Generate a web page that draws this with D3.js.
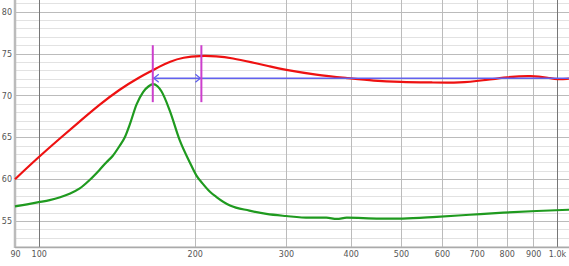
<!DOCTYPE html>
<html>
<head>
<meta charset="utf-8">
<script src="https://cdn.jsdelivr.net/npm/d3@7"></script>
<style>
  body { margin: 0; background: #fff; }
  svg { display: block; }
  .tick text { font-family: "DejaVu Sans", Arial, sans-serif; font-size: 8px; fill: #555; }
</style>
</head>
<body>
<div class="graphContainer"></div>
<script>
var width = 569;
var height = 266;

// red response
var redFreq = [90, 100, 110, 120, 131, 143, 156.6, 166, 171, 179, 190, 204.5, 220, 237, 256, 280, 296, 343, 398, 442, 498, 576, 650, 720, 800, 894, 967, 1000, 1055];
var redDb = [60.0, 62.65, 64.9, 66.9, 68.9, 70.7, 72.2, 73.0, 73.45, 74.05, 74.55, 74.75, 74.7, 74.45, 74.0, 73.45, 73.1, 72.45, 72.05, 71.75, 71.6, 71.55, 71.5, 71.8, 72.2, 72.4, 72.1, 71.9, 72.0];

// green response
var greenFreq = [90, 95, 100, 105, 110, 115, 120, 125.4, 131, 135, 139, 143, 146.6, 150, 154.4, 159, 163, 166.3, 169.5, 172.5, 179, 187, 195.7, 201.7, 207, 214, 220, 234, 255, 275, 300, 333, 359, 376, 393, 455, 504, 586, 679, 788, 914, 1055];
var greenDb = [56.75, 57.0, 57.25, 57.5, 57.85, 58.3, 58.9, 59.9, 61.1, 62.0, 62.8, 63.9, 65.0, 66.6, 68.9, 70.4, 71.1, 71.35, 71.1, 70.5, 68.2, 64.7, 62.0, 60.4, 59.5, 58.5, 57.9, 56.85, 56.25, 55.85, 55.6, 55.4, 55.4, 55.25, 55.4, 55.3, 55.3, 55.5, 55.75, 56.0, 56.2, 56.35];

// markers
var markerFreq = [166, 206];
var markerDb = [69.2, 76.0];
var bandDb = 72.05;

var xTicks = [90, 100, 200, 300, 400, 500, 600, 700, 800, 900, 1000];
var xTickLabels = ["90", "100", "200", "300", "400", "500", "600", "700", "800", "900", "1.0k"];
var yTicks = [55, 60, 65, 70, 75, 80];

var plotLeft = 15, plotTop = 0, plotRight = 569, plotBottom = 247;

var x = d3.scaleLog().domain([90, 1055]).range([plotLeft, plotRight]);
var y = d3.scaleLinear().domain([51.9, 81.4]).range([plotBottom, plotTop]);

var svg = d3.select(".graphContainer")
  .append("svg")
  .attr("width", width)
  .attr("height", height);

// horizontal grid
var minorY = d3.range(52, 82);
svg.append("g").selectAll("line")
  .data(minorY)
  .enter()
  .append("line")
  .attr("x1", plotLeft)
  .attr("x2", plotRight)
  .attr("y1", function (d) { return Math.round(y(d)) + 0.5; })
  .attr("y2", function (d) { return Math.round(y(d)) + 0.5; })
  .attr("stroke", function (d) { return d % 5 == 0 ? "#bbb" : "#e2e2e2"; })
  .attr("stroke-width", 1);

// vertical grid
svg.append("g").selectAll("line")
  .data(xTicks.slice(1))
  .enter()
  .append("line")
  .attr("x1", function (d) { return Math.round(x(d)) + 0.5; })
  .attr("x2", function (d) { return Math.round(x(d)) + 0.5; })
  .attr("y1", plotTop)
  .attr("y2", plotBottom)
  .attr("stroke", function (d) { return d == 100 || d == 1000 ? "#777" : "#bbb"; })
  .attr("stroke-width", 1);

// frame
svg.append("line")
  .attr("x1", plotLeft).attr("x2", plotLeft)
  .attr("y1", plotTop).attr("y2", plotBottom + 1)
  .attr("stroke", "#bbb").attr("stroke-width", 2.5);
svg.append("line")
  .attr("x1", plotLeft).attr("x2", plotRight)
  .attr("y1", plotBottom + 0.5).attr("y2", plotBottom + 0.5)
  .attr("stroke", "#aaa").attr("stroke-width", 1.5);

// axes
var xAxis = d3.axisBottom(x)
  .tickValues(xTicks)
  .tickFormat(function (d, i) { return xTickLabels[i]; })
  .tickSize(0)
  .tickPadding(4);
svg.append("g")
  .attr("transform", "translate(0," + plotBottom + ")")
  .call(xAxis)
  .call(function (g) { g.select(".domain").remove(); });

var yAxis = d3.axisLeft(y)
  .tickValues(yTicks)
  .tickSize(0)
  .tickPadding(3);
svg.append("g")
  .attr("transform", "translate(" + plotLeft + ",0)")
  .call(yAxis)
  .call(function (g) { g.select(".domain").remove(); });

// curves
function lineWith(curve) {
  return d3.line()
    .x(function (d) { return x(d[0]); })
    .y(function (d) { return y(d[1]); })
    .curve(curve);
}

svg.append("path")
  .datum(d3.zip(greenFreq, greenDb))
  .attr("d", lineWith(d3.curveMonotoneX))
  .attr("fill", "none")
  .attr("stroke", "#1f9a1f")
  .attr("stroke-width", 2.2);

svg.append("path")
  .datum(d3.zip(redFreq, redDb))
  .attr("d", lineWith(d3.curveBasis))
  .attr("fill", "none")
  .attr("stroke", "#ee1111")
  .attr("stroke-width", 2.2);

// band line with arrows
svg.append("line")
  .attr("x1", x(markerFreq[0]))
  .attr("x2", plotRight)
  .attr("y1", y(bandDb))
  .attr("y2", y(bandDb))
  .attr("stroke", "#6262ee")
  .attr("stroke-width", 1.5);

var by = y(bandDb);
var ax0 = x(markerFreq[0]), ax1 = x(markerFreq[1]);
svg.append("path")
  .attr("d", "M" + (ax0 + 6) + "," + (by - 4) + "L" + (ax0 + 1) + "," + by + "L" + (ax0 + 6) + "," + (by + 4) +
             "M" + (ax1 - 6) + "," + (by - 4) + "L" + (ax1 - 1) + "," + by + "L" + (ax1 - 6) + "," + (by + 4))
  .attr("fill", "none")
  .attr("stroke", "#6262ee")
  .attr("stroke-width", 1.3);

svg.append("g").selectAll("line")
  .data(markerFreq)
  .enter()
  .append("line")
  .attr("x1", function (d) { return x(d); })
  .attr("x2", function (d) { return x(d); })
  .attr("y1", y(markerDb[0]))
  .attr("y2", y(markerDb[1]))
  .attr("stroke", "#cc3fcc")
  .attr("stroke-width", 2);
</script>
</body>
</html>
